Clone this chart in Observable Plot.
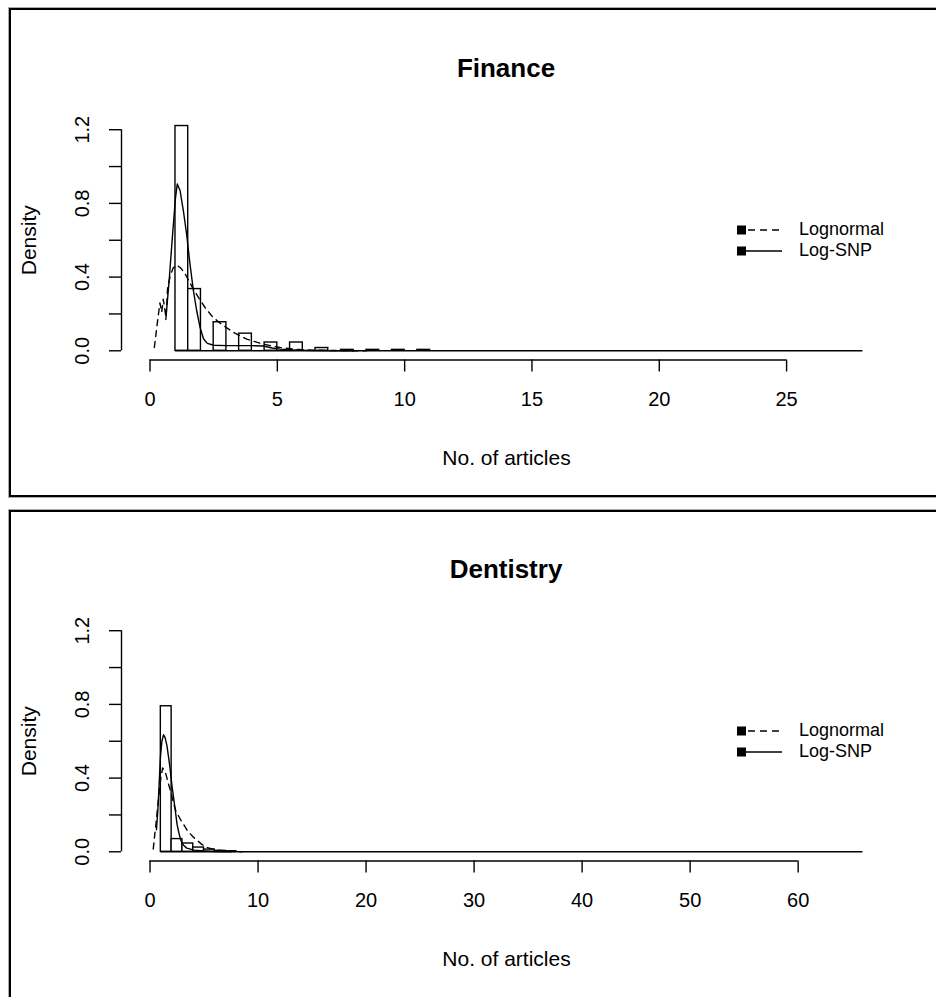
<!DOCTYPE html>
<html><head><meta charset="utf-8">
<script src="https://cdn.jsdelivr.net/npm/d3@7"></script>
<script src="https://cdn.jsdelivr.net/npm/@observablehq/plot@0.6"></script>
<style>
html,body{margin:0;padding:0;background:#fff;width:936px;height:997px;overflow:hidden;font-family:"Liberation Sans",Arial,Helvetica,sans-serif;color:#000;}
.frame{position:absolute;left:9px;width:980px;border:2px solid #000;border-right:none;box-shadow:0 0 0 1px #aaa;}
.title{position:absolute;left:121px;width:770px;text-align:center;font-weight:bold;font-size:26px;line-height:30px;}
.plotwrap{position:absolute;left:0;width:936px;}
.legend{position:absolute;left:736px;font-size:18px;line-height:21px;}
.legrow{position:relative;height:21px;white-space:nowrap;}
.legrow svg{position:absolute;left:0;top:0;}
.legrow span{position:absolute;left:63px;top:0;}
</style>
</head><body>
<div id="root"></div>
<script>
// ---------- data ----------
const panelTitles = ["Finance", "Dentistry"];
const xLabel = "No. of articles";
const yLabel = "Density";
const legendLabels = ["Lognormal", "Log-SNP"];
const yTicks = [0, 0.2, 0.4, 0.6, 0.8, 1.0, 1.2];
const yLabelTicks = [0, 0.4, 0.8, 1.2];

// Finance
const financeXTicks = [0, 5, 10, 15, 20, 25];
const financeHistStart = 1, financeHistEnd = 28, financeBinWidth = 0.5;
const financeDensity = [1.22, 0.335, 0, 0.155, 0, 0.093, 0, 0.045, 0, 0.045, 0, 0.015, 0, 0.005, 0, 0.005, 0, 0.005, 0, 0.005];
const financeLognormal = [[0.17,0.018],[0.3,0.165],[0.39,0.26],[0.46,0.21],[0.52,0.28],[0.63,0.18],[0.69,0.34],[0.8,0.41],[0.91,0.45],[1.05,0.465],[1.2,0.45],[1.37,0.42],[1.64,0.35],[1.9,0.29],[2.16,0.235],[2.42,0.19],[2.75,0.15],[3.27,0.1],[3.8,0.063],[4.45,0.036],[5.1,0.018],[5.76,0.007],[6.5,0.003],[7.5,0.001],[8.5,0]];
const financeLogSNP = [[0.62,0.17],[0.75,0.38],[0.88,0.62],[1.0,0.83],[1.07,0.905],[1.18,0.87],[1.31,0.76],[1.44,0.63],[1.57,0.47],[1.7,0.33],[1.83,0.22],[1.96,0.13],[2.1,0.065],[2.25,0.04],[2.5,0.03],[3.0,0.028],[3.5,0.028],[4.0,0.028],[4.45,0.026],[4.8,0.015],[5.1,0.009],[5.6,0.004],[6.5,0.001],[8.0,0]];

// Dentistry
const dentXTicks = [0, 10, 20, 30, 40, 50, 60];
const dentHistStart = 1, dentHistEnd = 66, dentBinWidth = 1;
const dentDensity = [0.79, 0.069, 0.045, 0.023, 0.012, 0.005, 0.003];
const dentLognormal = [[0.3,0.015],[0.45,0.1],[0.55,0.15],[0.7,0.24],[0.86,0.33],[1.0,0.4],[1.17,0.455],[1.3,0.445],[1.48,0.42],[1.7,0.37],[1.95,0.32],[2.15,0.27],[2.4,0.22],[2.87,0.17],[3.2,0.14],[3.47,0.114],[4.0,0.08],[4.4,0.06],[4.8,0.04],[5.3,0.023],[6.2,0.009],[7.3,0.003],[8.5,0]];
const dentLogSNP = [[0.6,0.12],[0.75,0.25],[0.87,0.4],[0.97,0.52],[1.1,0.6],[1.25,0.635],[1.4,0.62],[1.57,0.575],[1.75,0.5],[1.88,0.44],[2.05,0.35],[2.19,0.29],[2.35,0.22],[2.5,0.15],[2.68,0.1],[2.87,0.06],[3.1,0.035],[3.4,0.02],[4.1,0.009],[5.0,0.004],[6.0,0.001],[7.5,0]];

const panels = [
  {title: panelTitles[0], xTicks: financeXTicks, start: financeHistStart, end: financeHistEnd, bw: financeBinWidth, dens: financeDensity, ln: financeLognormal, snp: financeLogSNP},
  {title: panelTitles[1], xTicks: dentXTicks, start: dentHistStart, end: dentHistEnd, bw: dentBinWidth, dens: dentDensity, ln: dentLognormal, snp: dentLogSNP}
];

// ---------- layout ----------
const root = document.getElementById("root");
const panelTop = [0, 501];
const lw = 1.4;
const font = '"Liberation Sans", Arial, Helvetica, sans-serif';

panels.forEach((p, i) => {
  const off = panelTop[i];
  const frame = document.createElement("div");
  frame.className = "frame";
  frame.style.top = (8 + off + (i ? 1 : 0)) + "px";
  frame.style.height = i ? "600px" : "485px";
  root.appendChild(frame);

  const t = document.createElement("div");
  t.className = "title";
  t.style.top = (53 + off) + "px";
  t.textContent = p.title;
  root.appendChild(t);

  const bins = p.dens.map((d, k) => ({x1: p.start + k * p.bw, x2: p.start + (k + 1) * p.bw, density: d}));
  const pad = 0.04 * p.end;
  const xDomain = [0 - pad, p.end + pad];
  const yDomain = [-0.05, 1.25];

  const chart = Plot.plot({
    width: 936, height: 380,
    marginLeft: 121, marginRight: 45, marginTop: 20, marginBottom: 120.5,
    style: {fontFamily: font, fontSize: "20px", background: "transparent", color: "#000"},
    x: {domain: xDomain, axis: null},
    y: {domain: yDomain, axis: null},
    marks: [
      Plot.ruleY([0], {x1: p.start, x2: p.end, stroke: "#000", strokeWidth: lw}),
      Plot.rect(bins, {x1: "x1", x2: "x2", y1: 0, y2: "density", fill: "white", stroke: "#000", strokeWidth: lw}),
      Plot.line(p.ln, {x: d => d[0], y: d => d[1], stroke: "#000", strokeWidth: lw, strokeDasharray: "6,5"}),
      Plot.line(p.snp, {x: d => d[0], y: d => d[1], stroke: "#000", strokeWidth: lw}),
      // x axis
      Plot.ruleY([yDomain[0]], {x1: p.xTicks[0], x2: p.xTicks[p.xTicks.length - 1], stroke: "#000", strokeWidth: lw}),
      Plot.axisX({ticks: p.xTicks, tickSize: 12, tickPadding: 20, tickFormat: d => String(d), fontSize: 20, label: null, strokeWidth: lw}),
      // y axis
      Plot.ruleX([xDomain[0]], {y1: yTicks[0], y2: yTicks[yTicks.length - 1], stroke: "#000", strokeWidth: lw}),
      Plot.axisY({ticks: yTicks, tickSize: 12, tickFormat: () => "", label: null, strokeWidth: lw}),
      Plot.text(yLabelTicks, {x: xDomain[0], y: d => d, text: d => d3.format(".1f")(d), rotate: -90, dx: -39, fontSize: 20, textAnchor: "middle", lineAnchor: "middle"}),
      Plot.text([yLabel], {frameAnchor: "left", rotate: -90, dx: -92, fontSize: 21, textAnchor: "middle", lineAnchor: "middle"}),
      Plot.text([xLabel], {frameAnchor: "bottom", dy: 98, fontSize: 21, lineAnchor: "middle"})
    ]
  });
  const wrap = document.createElement("div");
  wrap.className = "plotwrap";
  wrap.style.top = (100 + off) + "px";
  wrap.appendChild(chart);
  root.appendChild(wrap);

  // legend
  const leg = document.createElement("div");
  leg.className = "legend";
  leg.style.top = (219 + off) + "px";
  legendLabels.forEach((lab, k) => {
    const row = document.createElement("div");
    row.className = "legrow";
    const dash = k === 0 ? 'stroke-dasharray="7,5"' : '';
    const x0 = k === 0 ? 12 : 9;
    row.innerHTML = `<svg width="50" height="21"><line x1="${x0}" x2="46" y1="11" y2="11" stroke="#000" stroke-width="1.4" ${dash}/><rect x="1" y="6.5" width="9" height="9" fill="#000"/></svg><span>${lab}</span>`;
    leg.appendChild(row);
  });
  root.appendChild(leg);
});
</script>
</body></html>
